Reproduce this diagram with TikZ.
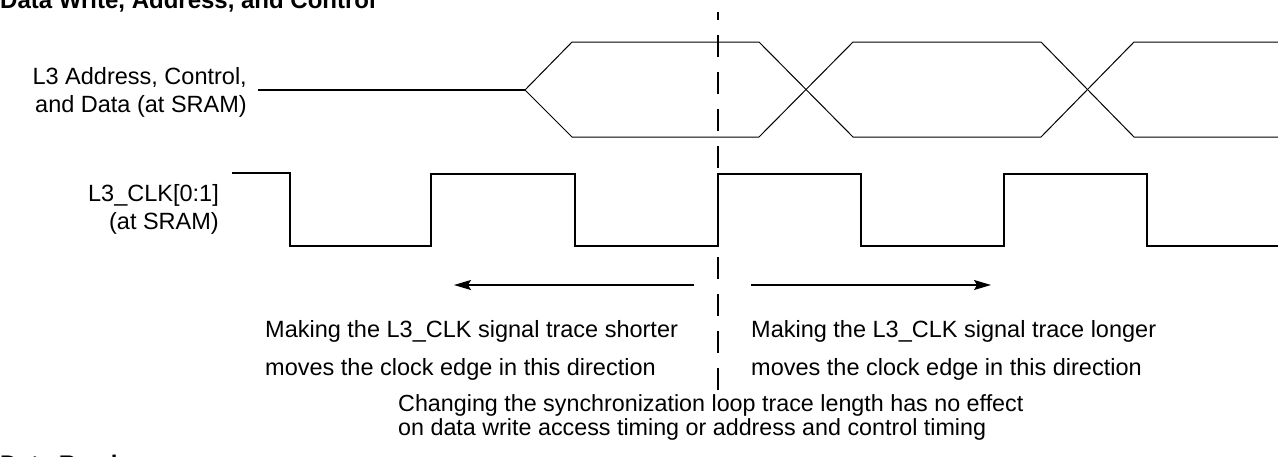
\documentclass[tikz,border=0pt]{standalone}
\usepackage{fontspec}
\setmainfont{Liberation Sans}
\usetikzlibrary{arrows.meta}
\begin{document}
\begin{tikzpicture}[x=1pt,y=-1pt,
  bus/.style={line width=1pt,line join=miter},
  stub/.style={line width=1.6pt},
  clk/.style={line width=2pt,line join=miter},
  marker/.style={line width=2pt,dash pattern=on 22pt off 15pt,dash phase=14pt},
  dirarrow/.style={line width=1.3pt,-{Stealth[length=17pt,width=10pt,inset=3pt]}},
  lbl/.style={inner sep=0pt,align=right,anchor=east,font=\fontsize{23.5}{28}\selectfont},
  note/.style={inner sep=0pt,anchor=base west,font=\fontsize{23.5}{28}\selectfont},
  title/.style={inner sep=0pt,anchor=base west,font=\fontsize{24}{28}\selectfont\bfseries}]
\useasboundingbox (0,0) rectangle (1278,456);
% titles (cut off by the page)
\node[title] (t1) at (0,8) {Data Write, Address, and Control};
\node[title] (t2) at (0,472) {Data Read};
% signal labels
\node[lbl] (la) at (247,92) {L3 Address, Control,\\and Data (at SRAM)};
\node[lbl] (lc) at (219,209) {L3\_CLK[0:1]\\(at SRAM)};
% data bus
\draw[stub] (258,90) -- (525,90);
\draw[bus] (525,90) -- (572,42) -- (759,42) -- (853,137) -- (1041,137) -- (1134,42) -- (1278,42);
\draw[bus] (525,90) -- (572,137) -- (759,137) -- (853,42) -- (1041,42) -- (1134,137) -- (1278,137);
% clock
\draw[clk] (232,173) -- (290,173) -- (290,246) -- (431,246) -- (431,174) -- (575,174) -- (575,246)
  -- (718,246) -- (718,174) -- (861,174) -- (861,246) -- (1004,246) -- (1004,174) -- (1147,174)
  -- (1147,246) -- (1278,246);
% reference marker
\coordinate (mtop) at (718,12);
\coordinate (mbot) at (718,392);
\draw[marker] (mtop) -- (mbot);
% direction arrows
\coordinate (la1) at (694,285);
\coordinate (la2) at (454,285);
\coordinate (ra1) at (751,285);
\coordinate (ra2) at (991,285);
\draw[dirarrow] (la1) -- (la2);
\draw[dirarrow] (ra1) -- (ra2);
% notes
\node[note] (n1) at (265,337) {Making the L3\_CLK signal trace shorter};
\node[note] (n2) at (265,375) {moves the clock edge in this direction};
\node[note] (n3) at (751,337) {Making the L3\_CLK signal trace longer};
\node[note] (n4) at (751,375) {moves the clock edge in this direction};
\node[note,font=\fontsize{23.3}{24}\selectfont] (n5) at (398,411) {Changing the synchronization loop trace length has no effect};
\node[note,font=\fontsize{23.3}{24}\selectfont] (n6) at (398,435) {on data write access timing or address and control timing};
\end{tikzpicture}
\end{document}
